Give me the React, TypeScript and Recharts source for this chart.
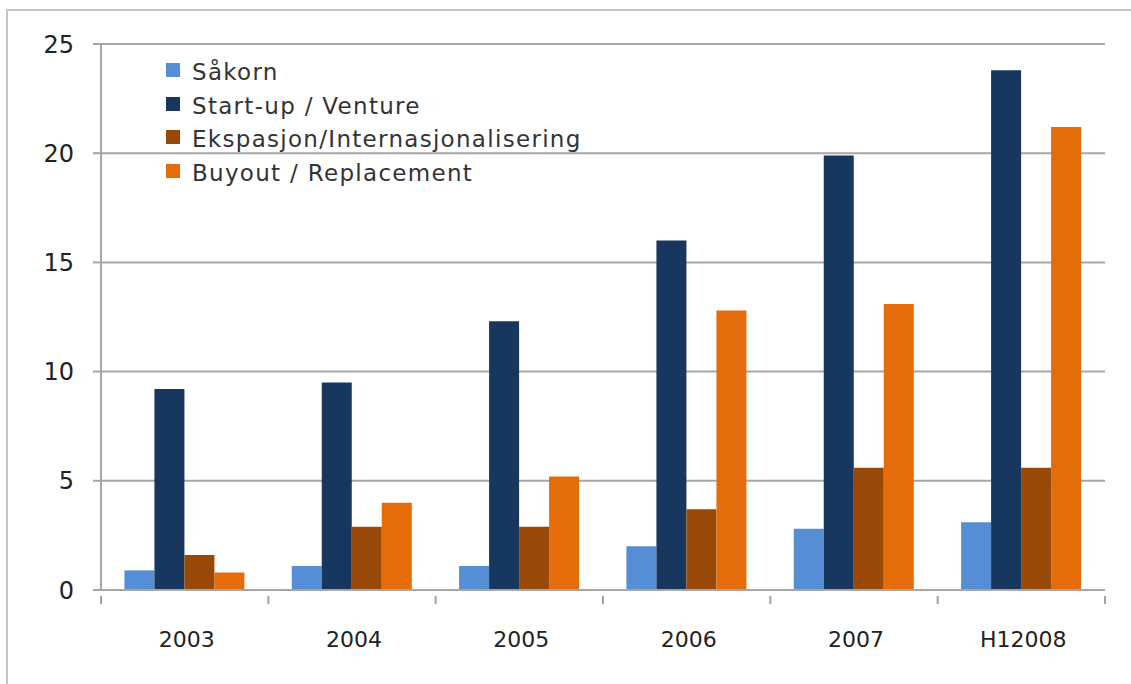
import React from 'react';
import { BarChart, Bar, XAxis, YAxis, CartesianGrid } from 'recharts';

const years = ['2003', '2004', '2005', '2006', '2007', 'H12008'];
const sakorn = [0.9, 1.1, 1.1, 2.0, 2.8, 3.1];
const startup = [9.2, 9.5, 12.3, 16.0, 19.9, 23.8];
const ekspansjon = [1.6, 2.9, 2.9, 3.7, 5.6, 5.6];
const buyout = [0.8, 4.0, 5.2, 12.8, 13.1, 21.2];
const yTicks = [0, 5, 10, 15, 20, 25];

const series = [
  { key: 'sakorn', name: 'Såkorn', color: '#558ED5' },
  { key: 'startup', name: 'Start-up / Venture', color: '#17375E' },
  { key: 'ekspansjon', name: 'Ekspasjon/Internasjonalisering', color: '#984807' },
  { key: 'buyout', name: 'Buyout / Replacement', color: '#E46C0A' },
];

const data = years.map((year, i) => ({
  year,
  sakorn: sakorn[i],
  startup: startup[i],
  ekspansjon: ekspansjon[i],
  buyout: buyout[i],
}));

const W = 1131;
const H = 684;
const plotLeft = 101;
const plotRight = 1105;
const bandWidth = (plotRight - plotLeft) / years.length;
const font = '"DejaVu Sans", Verdana, sans-serif';

// category label in the middle, tick marks on the band edges
const XTick = (props: any) => {
  const { x, y, payload, index } = props;
  const left = x - bandWidth / 2;
  return (
    <g>
      <line x1={left} y1={y - 2} x2={left} y2={y + 6} stroke="#a0a0a0" strokeWidth={2} />
      {index === years.length - 1 && (
        <line x1={left + bandWidth} y1={y - 2} x2={left + bandWidth} y2={y + 6} stroke="#a0a0a0" strokeWidth={2} />
      )}
      <text x={x + 2} y={y + 49} textAnchor="middle" fontSize={22} fill="#222" fontFamily={font}>
        {payload.value}
      </text>
    </g>
  );
};

const Legend = () => (
  <div
    style={{
      position: 'absolute',
      left: 166,
      top: 56,
      fontFamily: font,
      fontSize: 23,
      letterSpacing: 1.3,
      color: '#333',
      lineHeight: '33.7px',
    }}
  >
    {series.map((s) => (
      <div key={s.key} style={{ display: 'flex', alignItems: 'center', height: 33.7 }}>
        <span style={{ width: 14, height: 14, background: s.color, marginRight: 12, marginTop: -6, flex: 'none' }} />
        <span>{s.name}</span>
      </div>
    ))}
  </div>
);

const App = () => {
  return (
    <div style={{ position: 'absolute', left: 0, top: 0, width: W, height: H, background: '#fff', overflow: 'hidden' }}>
      <div
        style={{
          position: 'absolute',
          left: 6,
          top: 9,
          width: W,
          height: H,
          borderTop: '2px solid #c4c4c4',
          borderLeft: '2px solid #c4c4c4',
        }}
      />
      <div style={{ position: 'absolute', left: 0, top: 0 }}>
        <BarChart
          width={W}
          height={H}
          data={data}
          margin={{ top: 44, right: W - plotRight, left: 0, bottom: 0 }}
          barCategoryGap="14%"
          barGap={0}
        >
          <CartesianGrid vertical={false} stroke="#a6a6a6" strokeWidth={2} />
          <XAxis
            dataKey="year"
            height={94}
            axisLine={{ stroke: '#a6a6a6', strokeWidth: 2 }}
            tickLine={false}
            tick={<XTick />}
            interval={0}
          />
          <YAxis
            width={plotLeft}
            domain={[0, 25]}
            ticks={yTicks}
            axisLine={{ stroke: '#a6a6a6', strokeWidth: 2 }}
            tickLine={{ stroke: '#a6a6a6', strokeWidth: 2 }}
            tickSize={8}
            tickMargin={19}
            tick={{ fontSize: 24, fill: '#222', fontFamily: font }}
          />
          {series.map((s) => (
            <Bar key={s.key} dataKey={s.key} name={s.name} fill={s.color} isAnimationActive={false} />
          ))}
        </BarChart>
      </div>
      <Legend />
    </div>
  );
};

export default App;
